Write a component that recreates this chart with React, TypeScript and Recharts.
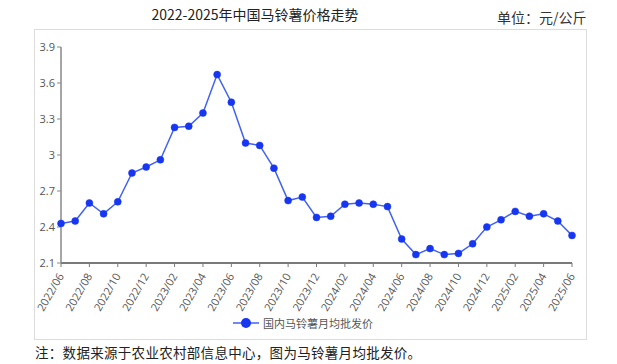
import React from "react";
import { LineChart, Line, XAxis, YAxis, Legend } from "recharts";

const months = [
  "2022/06", "2022/07", "2022/08", "2022/09", "2022/10", "2022/11", "2022/12",
  "2023/01", "2023/02", "2023/03", "2023/04", "2023/05", "2023/06", "2023/07",
  "2023/08", "2023/09", "2023/10", "2023/11", "2023/12", "2024/01", "2024/02",
  "2024/03", "2024/04", "2024/05", "2024/06", "2024/07", "2024/08", "2024/09",
  "2024/10", "2024/11", "2024/12", "2025/01", "2025/02", "2025/03", "2025/04",
  "2025/05", "2025/06",
];

const prices = [
  2.43, 2.45, 2.6, 2.51, 2.61, 2.85, 2.9, 2.96, 3.23, 3.24, 3.35, 3.67, 3.44,
  3.1, 3.08, 2.89, 2.62, 2.65, 2.48, 2.49, 2.59, 2.6, 2.59, 2.57, 2.3, 2.17,
  2.22, 2.17, 2.18, 2.26, 2.4, 2.46, 2.53, 2.49, 2.51, 2.45, 2.33,
];

const yTicks = [2.1, 2.4, 2.7, 3, 3.3, 3.6, 3.9];

const seriesName = "国内马铃薯月均批发价";

const data = months.map((m, i) => ({ month: m, price: prices[i] }));

const CJK = '"Noto Sans CJK SC", "Noto Sans", sans-serif';
const LINE = "#4262f0";
const DOT = "#1636f2";

function MonthTick(props: any) {
  const { x, y, payload } = props;
  return (
    <g transform={`translate(${x},${y + 5})`}>
      <text
        x={0}
        y={0}
        dy="0.35em"
        textAnchor="end"
        transform="rotate(-60)"
        fontSize={11}
        fill="#555"
        fontFamily='"Open Sans", sans-serif'
      >
        {payload.value}
      </text>
    </g>
  );
}

function LegendContent() {
  return (
    <div
      style={{
        display: "flex",
        justifyContent: "center",
        alignItems: "center",
        height: 24,
        fontFamily: CJK,
        fontSize: 11,
        color: "#555",
      }}
    >
      <svg width={26} height={12} style={{ marginRight: 4 }}>
        <line x1={0} y1={6} x2={26} y2={6} stroke={LINE} strokeWidth={1.5} />
        <circle cx={13} cy={6} r={5} fill={DOT} />
      </svg>
      <span>{seriesName}</span>
    </div>
  );
}

export default function App() {
  return (
    <div
      style={{
        position: "absolute",
        left: 0,
        top: 0,
        width: 617,
        height: 364,
        background: "#fff",
        fontFamily: CJK,
      }}
    >
      <div
        style={{
          position: "absolute",
          left: 0,
          width: 510,
          top: 4,
          textAlign: "center",
          fontSize: 14,
          color: "#222",
          lineHeight: "20px",
        }}
      >
        2022-2025年中国马铃薯价格走势
      </div>
      <div
        style={{
          position: "absolute",
          left: 497,
          top: 8,
          fontSize: 14,
          color: "#333",
          lineHeight: "18px",
        }}
      >
        单位：元/公斤
      </div>
      <div
        style={{
          position: "absolute",
          left: 34,
          top: 29,
          width: 553,
          height: 311,
          boxSizing: "border-box",
          border: "1px solid #dcdcdc",
        }}
      />
      <div style={{ position: "absolute", left: 34, top: 29 }}>
        <LineChart
          width={553}
          height={311}
          data={data}
          margin={{ top: 18, right: 15, left: 0, bottom: 5 }}
        >
          <XAxis
            dataKey="month"
            interval={1}
            height={48}
            tick={<MonthTick />}
            tickSize={4}
            axisLine={{ stroke: "#7a7a7a", strokeWidth: 2 }}
            tickLine={{ stroke: "#7a7a7a" }}
          />
          <YAxis
            domain={[2.1, 3.9]}
            ticks={yTicks}
            width={27}
            tickSize={4}
            interval={0}
            tick={{ fontSize: 11, fill: "#555", fontFamily: '"Open Sans", sans-serif' }}
            axisLine={{ stroke: "#888", strokeWidth: 1.5 }}
            tickLine={{ stroke: "#888" }}
          />
          <Legend verticalAlign="bottom" height={24} content={<LegendContent />} />
          <Line
            type="linear"
            dataKey="price"
            name={seriesName}
            stroke={LINE}
            strokeWidth={1.5}
            dot={{ r: 3.5, fill: DOT, stroke: DOT, strokeWidth: 0.5 }}
            isAnimationActive={false}
          />
        </LineChart>
      </div>
      <div
        style={{
          position: "absolute",
          left: 35,
          top: 343,
          fontSize: 13.5,
          letterSpacing: 0.3,
          color: "#222",
          lineHeight: "18px",
          whiteSpace: "nowrap",
        }}
      >
        注：数据来源于农业农村部信息中心，图为马铃薯月均批发价。
      </div>
    </div>
  );
}
